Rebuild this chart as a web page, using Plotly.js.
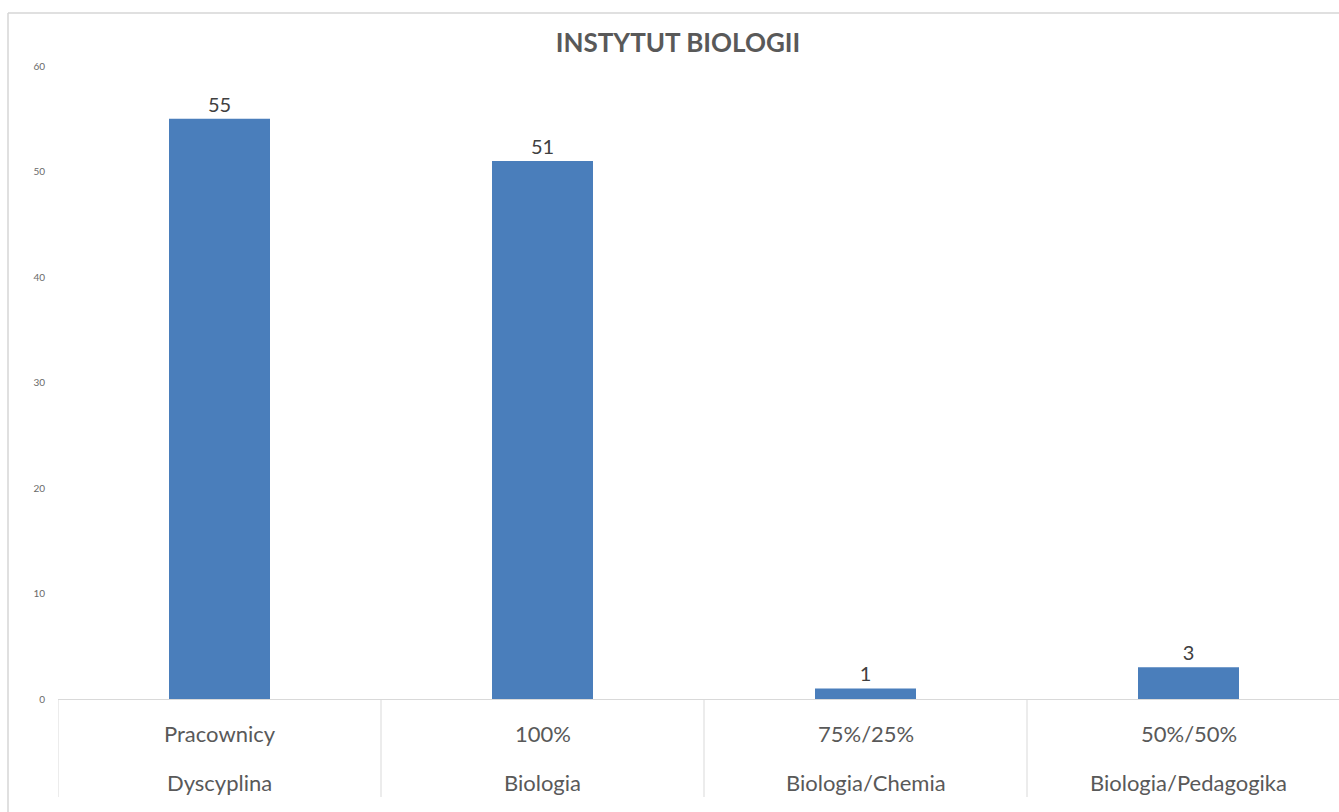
<!DOCTYPE html>
<html>
<head>
<meta charset="utf-8">
<script src="https://cdn.plot.ly/plotly-3.0.1.min.js"></script>
<style>html,body{margin:0;padding:0;background:#fff;overflow:hidden;}#chart{width:1339px;height:812px;}</style>
</head>
<body>
<div id="chart"></div>
<script>
const chartTitle = 'INSTYTUT BIOLOGII';
const categories = ['Pracownicy', '100%', '75%/25%', '50%/50%'];
const disciplines = ['Dyscyplina', 'Biologia', 'Biologia/Chemia', 'Biologia/Pedagogika'];
const values = [55, 51, 1, 3];
const yTicks = [0, 10, 20, 30, 40, 50, 60];

const W = 1339, H = 812;
const mL = 58, mR = 0, mT = 66, mB = 113;
const plotW = W - mL - mR, plotH = H - mT - mB;
const catW = 323;
const xMax = -0.5 + plotW / catW;
const px2py = p => -(p) / plotH; // pixels below plot bottom -> paper y

const gridCol = '#d9d9d9';
const textCol = '#595959';
const font = 'Lato, "Open Sans", sans-serif';

const shapes = [];
// table separators (the one closing the last column lies beyond the visible area)
for (let i = 0; i < categories.length; i++) {
  shapes.push({type: 'line', xref: 'x', yref: 'paper', x0: i - 0.5, x1: i - 0.5,
    y0: 0, y1: px2py(98), line: {color: gridCol, width: 1}});
}
// outer chart border (left and top)
const topY = (plotH + mT - 13) / plotH;
const leftX = (8 - mL) / plotW;
shapes.push({type: 'line', xref: 'paper', yref: 'paper',
  x0: leftX, x1: leftX, y0: px2py(125), y1: topY,
  line: {color: '#d6d6d6', width: 1.5}});
shapes.push({type: 'line', xref: 'paper', yref: 'paper',
  x0: leftX, x1: 1.0, y0: topY, y1: topY,
  line: {color: '#d6d6d6', width: 1.5}});

const annotations = [];
categories.forEach((c, i) => {
  annotations.push({x: c, xref: 'x', yref: 'paper', y: px2py(34), yanchor: 'middle',
    text: c, showarrow: false, font: {family: font, size: 22, color: textCol}});
  annotations.push({x: c, xref: 'x', yref: 'paper', y: px2py(83), yanchor: 'middle',
    text: disciplines[i], showarrow: false, font: {family: font, size: 22, color: textCol}});
});

const trace = {
  type: 'bar',
  x: categories,
  y: values,
  marker: {color: '#4a7ebb', line: {width: 0}},
  text: values.map(String),
  textposition: 'outside',
  textfont: {family: font, size: 20, color: '#404040'},
  cliponaxis: false,
  hoverinfo: 'skip'
};

const layout = {
  width: W, height: H,
  margin: {l: mL, r: mR, t: mT, b: mB, pad: 0},
  paper_bgcolor: '#ffffff',
  plot_bgcolor: '#ffffff',
  showlegend: false,
  bargap: 1 - 101 / catW,
  title: {text: '<b>' + chartTitle + '</b>', font: {family: font, size: 26, color: textCol},
    x: 678 / W, xanchor: 'center', y: 1 - 43 / H, yanchor: 'middle'},
  xaxis: {
    type: 'category',
    range: [-0.5, xMax],
    showticklabels: false,
    showgrid: false,
    zeroline: false,
    showline: false,
    ticks: '',
    fixedrange: true
  },
  yaxis: {
    range: [0, 60],
    tickvals: yTicks,
    ticktext: yTicks.map(String),
    tickfont: {family: font, size: 10, color: '#6a6a6a'},
    ticks: 'outside', ticklen: 10, tickcolor: 'rgba(0,0,0,0)',
    showgrid: false,
    zeroline: true, zerolinecolor: gridCol, zerolinewidth: 1,
    showline: false,
    fixedrange: true
  },
  shapes: shapes,
  annotations: annotations
};

Plotly.newPlot('chart', [trace], layout, {staticPlot: true, displayModeBar: false});
</script>
</body>
</html>
